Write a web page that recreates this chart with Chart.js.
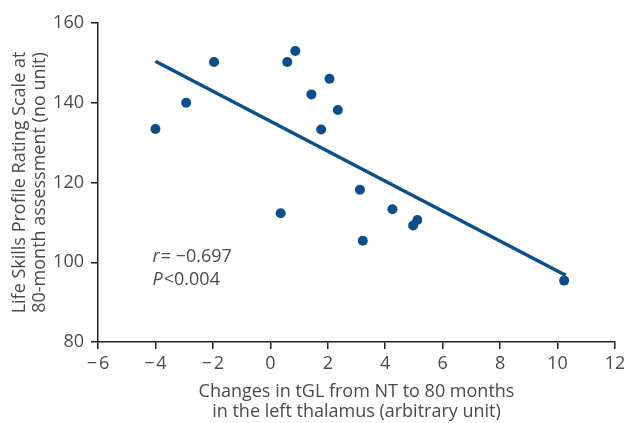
<!DOCTYPE html>
<html>
<head>
<meta charset="utf-8">
<script src="https://cdn.jsdelivr.net/npm/chart.js@4"></script>
<style>
  html, body { margin: 0; padding: 0; background: #fff; }
  #chart { display: block; }
</style>
</head>
<body>
<canvas id="chart" width="624" height="423"></canvas>
<script>
// values
const tglChange = [-4.0, -2.93, -1.96, 0.36, 0.59, 0.87, 1.43, 1.77, 2.06, 2.35, 3.12, 3.22, 4.25, 4.97, 5.12, 10.23];
const lspScore  = [133.4, 140.0, 150.2, 112.3, 150.2, 153.0, 142.1, 133.3, 146.0, 138.2, 118.2, 105.4, 113.3, 109.2, 110.6, 95.4];

// regression line end points
const fitX = [-4.0, 10.28];
const fitY = [150.4, 96.75];

const xTicks = [-6, -4, -2, 0, 2, 4, 6, 8, 10, 12];
const yTicks = [80, 100, 120, 140, 160];

const statLines = [
  { sym: 'r', rest: '= \u22120.697', y: 100 },
  { sym: 'P', rest: '<0.004', y: 94.4 }
];

const blue = '#0a4f8c';
const ink = '#4a4a4a';
const axisInk = '#231f20';
const fontFam = "'Open Sans', 'DejaVu Sans', sans-serif";

const statsPlugin = {
  id: 'stats',
  afterDraw(chart) {
    const ctx = chart.ctx;
    const xs = chart.scales.x, ys = chart.scales.y;
    ctx.save();
    ctx.fillStyle = ink;
    ctx.textBaseline = 'alphabetic';
    statLines.forEach(l => {
      let px = xs.getPixelForValue(-4.1);
      const py = ys.getPixelForValue(l.y);
      ctx.font = 'italic 18px ' + fontFam;
      ctx.fillText(l.sym, px, py);
      px += ctx.measureText(l.sym).width + 1;
      ctx.font = '18px ' + fontFam;
      ctx.fillText(l.rest, px, py);
    });
    ctx.restore();
  }
};

new Chart(document.getElementById('chart'), {
  type: 'scatter',
  data: {
    datasets: [
      {
        data: tglChange.map((x, i) => ({ x: x, y: lspScore[i] })),
        backgroundColor: blue,
        borderColor: blue,
        pointRadius: 5,
        pointHoverRadius: 5,
        borderWidth: 0
      },
      {
        type: 'line',
        data: fitX.map((x, i) => ({ x: x, y: fitY[i] })),
        borderColor: blue,
        borderWidth: 3.5,
        pointRadius: 0,
        fill: false
      }
    ]
  },
  options: {
    responsive: false,
    animation: false,
    events: [],
    layout: { padding: { top: 23, right: 0, bottom: 0, left: 0 } },
    plugins: {
      legend: { display: false },
      tooltip: { enabled: false }
    },
    scales: {
      x: {
        type: 'linear',
        min: -6,
        max: 12,
        afterBuildTicks: s => { s.ticks = xTicks.map(v => ({ value: v })); },
        afterFit: s => { s.height = 81; s.paddingRight = 9; },
        border: { display: true, color: axisInk, width: 1.5 },
        grid: { drawOnChartArea: false, drawTicks: true, tickLength: 7, color: axisInk, lineWidth: 1.5 },
        ticks: {
          color: ink,
          padding: 4,
          font: { family: fontFam, size: 18 },
          callback: v => v < 0 ? '\u2212\u200a' + Math.abs(v) : String(v)
        },
        title: {
          display: true,
          text: ['Changes in tGL from NT to 80 months', 'in the left thalamus (arbitrary unit)'],
          color: ink,
          font: { family: fontFam, size: 18, lineHeight: 1.1 },
          padding: { top: 0, bottom: 1 }
        }
      },
      y: {
        min: 80,
        max: 160,
        afterBuildTicks: s => { s.ticks = yTicks.map(v => ({ value: v })); },
        afterFit: s => { s.width = 98; },
        border: { display: true, color: axisInk, width: 1.5 },
        grid: { drawOnChartArea: false, drawTicks: true, tickLength: 7, color: axisInk, lineWidth: 1.5 },
        ticks: {
          color: ink,
          padding: 7,
          font: { family: fontFam, size: 18 }
        },
        title: {
          display: true,
          text: ['Life Skills Profile Rating Scale at', '80-month assessment (no unit)'],
          color: ink,
          font: { family: fontFam, size: 18, lineHeight: 1.1 },
          padding: { top: 10, bottom: 0 }
        }
      }
    }
  },
  plugins: [statsPlugin]
});
</script>
</body>
</html>
